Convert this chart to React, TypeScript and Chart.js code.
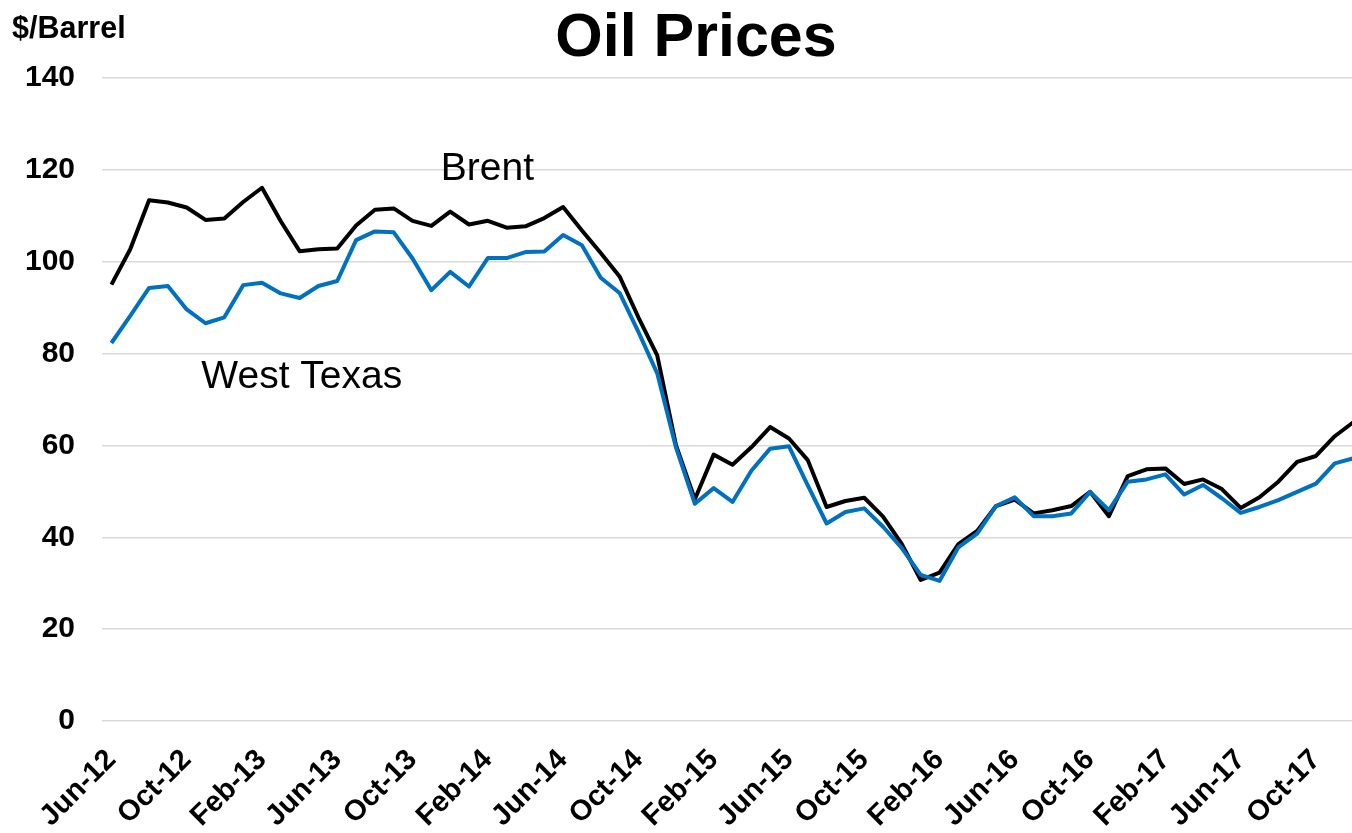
import React, { useEffect, useRef } from "react";
import { Chart, registerables } from "chart.js";

Chart.register(...registerables);

const TITLE = "Oil Prices";
const Y_UNIT = "$/Barrel";

const months = [
  "Jun-12", "Jul-12", "Aug-12", "Sep-12", "Oct-12", "Nov-12", "Dec-12",
  "Jan-13", "Feb-13", "Mar-13", "Apr-13", "May-13", "Jun-13", "Jul-13", "Aug-13", "Sep-13", "Oct-13", "Nov-13", "Dec-13",
  "Jan-14", "Feb-14", "Mar-14", "Apr-14", "May-14", "Jun-14", "Jul-14", "Aug-14", "Sep-14", "Oct-14", "Nov-14", "Dec-14",
  "Jan-15", "Feb-15", "Mar-15", "Apr-15", "May-15", "Jun-15", "Jul-15", "Aug-15", "Sep-15", "Oct-15", "Nov-15", "Dec-15",
  "Jan-16", "Feb-16", "Mar-16", "Apr-16", "May-16", "Jun-16", "Jul-16", "Aug-16", "Sep-16", "Oct-16", "Nov-16", "Dec-16",
  "Jan-17", "Feb-17", "Mar-17", "Apr-17", "May-17", "Jun-17", "Jul-17", "Aug-17", "Sep-17", "Oct-17", "Nov-17", "Dec-17",
];

const brent = [
  95.0, 102.7, 113.4, 112.9, 111.8, 109.1, 109.4, 113.0, 116.1, 108.8,
  102.3, 102.7, 102.9, 107.9, 111.3, 111.6, 108.9, 107.8, 110.9, 108.1,
  108.9, 107.4, 107.7, 109.5, 111.9, 106.8, 101.9, 96.8, 87.9, 79.6,
  60.0, 48.3, 58.0, 55.8, 59.6, 64.0, 61.5, 56.8, 46.6, 47.9,
  48.6, 44.5, 38.5, 30.7, 32.3, 38.5, 41.4, 46.8, 48.2, 45.2,
  45.9, 46.8, 49.9, 44.6, 53.3, 54.8, 55.0, 51.6, 52.6, 50.5,
  46.4, 48.7, 52.1, 56.4, 57.7, 62.0, 65.1,
];

const westTexas = [
  82.3, 88.2, 94.3, 94.7, 89.6, 86.6, 87.9, 94.9, 95.4, 93.1,
  92.1, 94.7, 95.8, 104.7, 106.6, 106.4, 100.7, 93.8, 97.8, 94.6,
  100.8, 100.8, 102.1, 102.2, 105.8, 103.6, 96.5, 93.2, 84.7, 75.7,
  59.5, 47.3, 50.7, 47.7, 54.5, 59.3, 59.8, 51.3, 43.0, 45.5,
  46.3, 42.3, 37.6, 31.8, 30.5, 37.8, 40.8, 46.8, 48.7, 44.6,
  44.6, 45.2, 49.9, 45.9, 52.1, 52.6, 53.7, 49.3, 51.4, 48.5,
  45.3, 46.6, 48.1, 49.9, 51.7, 56.1, 57.2,
];

const FONT = '"Liberation Sans", Arial, Helvetica, sans-serif';

export default function App() {
  const ref = useRef<HTMLCanvasElement>(null);

  useEffect(() => {
    const canvas = ref.current;
    if (!canvas) return;

    const textPlugin = {
      id: "oilTexts",
      afterDatasetsDraw(chart: any) {
        const ctx = chart.ctx as CanvasRenderingContext2D;
        const xs = chart.scales.x;
        const ys = chart.scales.y;
        ctx.save();
        ctx.fillStyle = "#000";
        ctx.textBaseline = "alphabetic";
        ctx.textAlign = "center";
        ctx.font = `bold 61px ${FONT}`;
        ctx.fillText(TITLE, 696, 56);
        ctx.textAlign = "left";
        ctx.font = `bold 30.5px ${FONT}`;
        ctx.fillText(Y_UNIT, 12, 38);
        ctx.font = `39px ${FONT}`;
        ctx.fillText("Brent", xs.getPixelForValue(17.5), ys.getPixelForValue(117.7));
        ctx.fillText("West Texas", xs.getPixelForValue(4.78), ys.getPixelForValue(72.6));
        ctx.restore();
      },
    };

    const chart = new Chart(canvas, {
      type: "line",
      data: {
        labels: months,
        datasets: [
          {
            label: "West Texas",
            data: westTexas,
            borderColor: "#0070C0",
            backgroundColor: "#0070C0",
            borderWidth: 4,
            pointRadius: 0,
            tension: 0,
            borderJoinStyle: "round",
            fill: false,
          },
          {
            label: "Brent",
            data: brent,
            borderColor: "#000000",
            backgroundColor: "#000000",
            borderWidth: 4,
            pointRadius: 0,
            tension: 0,
            borderJoinStyle: "round",
            fill: false,
          },
        ],
      },
      options: {
        responsive: false,
        animation: false,
        layout: { padding: { top: 78, right: 27, left: 0, bottom: 0 } },
        plugins: {
          legend: { display: false },
          title: { display: false },
          tooltip: { enabled: false },
        },
        scales: {
          x: {
            type: "category",
            offset: true,
            grid: { display: false, drawTicks: false },
            border: { display: false },
            ticks: {
              autoSkip: false,
              minRotation: 45,
              maxRotation: 45,
              padding: 22,
              color: "#000",
              font: { family: FONT, size: 29, weight: "bold" },
              callback: (_v: any, i: number) => (i % 4 === 0 ? months[i] : ""),
            },
            afterFit: (s: any) => {
              s.height = 112;
              s.paddingLeft = 0;
              s.paddingRight = 0;
            },
          },
          y: {
            min: 0,
            max: 140,
            ticks: {
              stepSize: 20,
              padding: 27,
              color: "#000",
              font: { family: FONT, size: 30, weight: "bold" },
            },
            grid: { color: "#d9d9d9", lineWidth: 1.5, drawTicks: false },
            border: { display: false },
            afterFit: (s: any) => {
              s.width = 102;
              s.paddingTop = 0;
              s.paddingBottom = 0;
            },
          },
        },
      },
      plugins: [textPlugin],
    } as any);

    return () => chart.destroy();
  }, []);

  return (
    <div
      style={{
        position: "fixed",
        left: 0,
        top: 0,
        width: 1352,
        height: 833,
        overflow: "hidden",
        background: "#fff",
      }}
    >
      <canvas ref={ref} width={1390} height={833} style={{ display: "block", width: 1390, height: 833 }} />
    </div>
  );
}
